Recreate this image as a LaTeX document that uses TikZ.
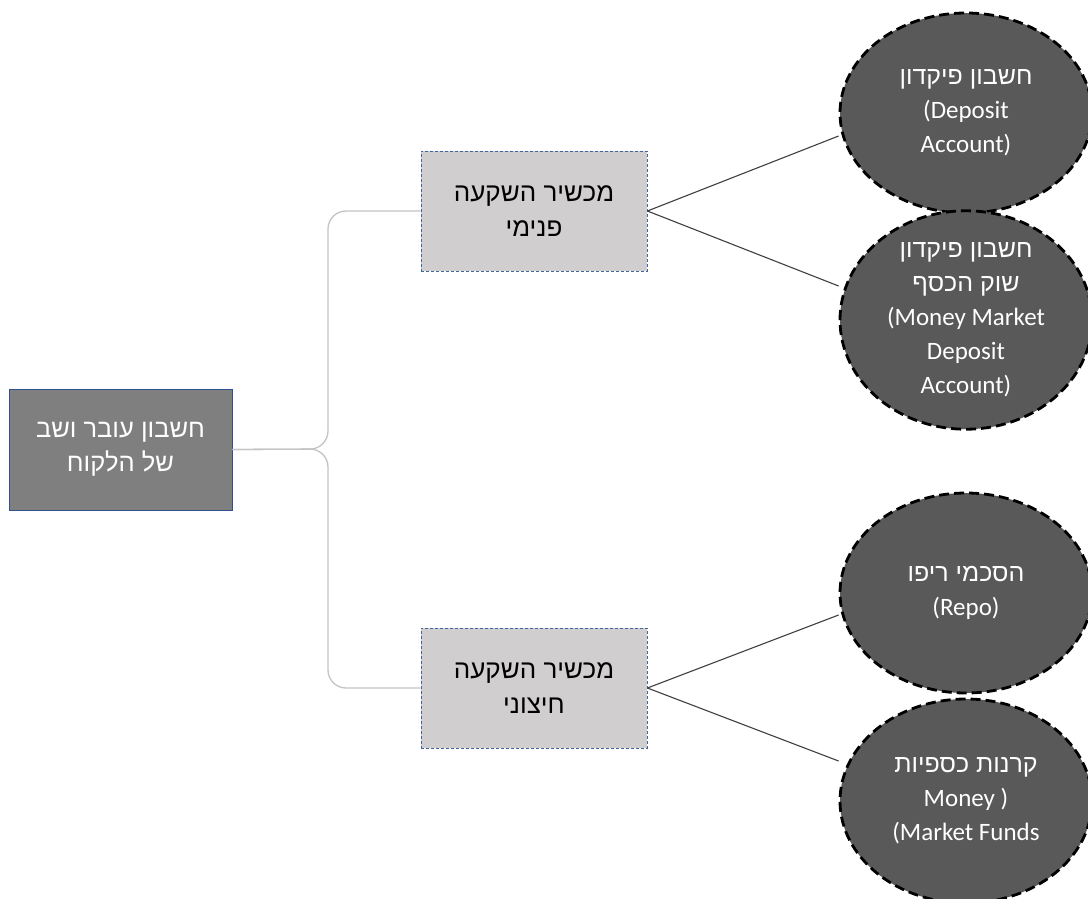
\documentclass[tikz,border=0pt]{standalone}
\usepackage{fontspec}
\setmainfont{Carlito}
\newfontfamily\hebfont[Script=Hebrew]{Liberation Sans}
\TeXXeTstate=1
\usetikzlibrary{shapes.geometric}
\definecolor{rootfill}{HTML}{7F7F7F}
\definecolor{rootline}{HTML}{2F528F}
\definecolor{boxfill}{HTML}{D0CECE}
\definecolor{boxline}{HTML}{41659C}
\definecolor{ellfill}{HTML}{595959}
\definecolor{trunk}{HTML}{C4C4C4}
\definecolor{spoke}{HTML}{404040}
\newcommand{\heb}[1]{{\hebfont\beginR #1\endR}}
\tikzset{
  rootbox/.style={draw=rootline, line width=0.8pt, fill=rootfill, text=white,
    minimum width=223pt, minimum height=121pt, align=center,
    font=\fontsize{25.5}{34}\selectfont},
  midbox/.style={draw=boxline, dash pattern=on 3pt off 2pt, line width=0.8pt,
    fill=boxfill, text=black, minimum width=226pt, minimum height=120pt, align=center,
    font=\fontsize{26}{35}\selectfont},
  leaf/.style={ellipse, draw=black, line width=2.8pt, dash pattern=on 10pt off 5pt,
    fill=ellfill, text=white, align=center, inner sep=0pt,
    minimum width=252pt, minimum height=200pt,
    font=\fontsize{25}{34}\selectfont},
  trunkline/.style={draw=trunk, line width=1.3pt, rounded corners=18pt},
  spokeline/.style={draw=spoke, line width=1.1pt}
}
\begin{document}
\begin{tikzpicture}[x=1pt,y=-1pt]
\clip (0,0) rectangle (1088,898);
\fill[white] (0,0) rectangle (1088,898);
\coordinate (jt) at (328,449);
\node[rootbox] (root) at (120.5,449.5) {\heb{חשבון עובר ושב}\\\heb{של הלקוח}};
\node[midbox] (b1) at (534,211) {\heb{מכשיר השקעה}\\\heb{פנימי}};
\node[midbox] (b2) at (534,688) {\heb{מכשיר השקעה}\\\heb{חיצוני}};
\draw[trunkline] (root.east) -- (jt) |- (b1.west);
\draw[trunkline] (root.east) -- (jt) |- (b2.west);
\node[leaf] (e1) at (966,113)
  {\heb{חשבון פיקדון}\\(Deposit\\Account)};
\node[leaf, minimum height=204pt] (e2) at (966,320)
  {\heb{חשבון פיקדון}\\\heb{שוק הכסף}\\(Money Market\\Deposit\\Account)};
\node[leaf] (e3) at (966,593)
  {\heb{הסכמי ריפו}\\(Repo)};
\node[leaf, minimum height=204pt] (e4) at (966,801)
  {\heb{קרנות כספיות}\\Money )\\(Market Funds};
\draw[spokeline] (b1.east) -- (e1.west |- 0,136);
\draw[spokeline] (b1.east) -- (e2.west |- 0,286);
\draw[spokeline] (b2.east) -- (e3.west |- 0,615);
\draw[spokeline] (b2.east) -- (e4.west |- 0,761);
\end{tikzpicture}
\end{document}
